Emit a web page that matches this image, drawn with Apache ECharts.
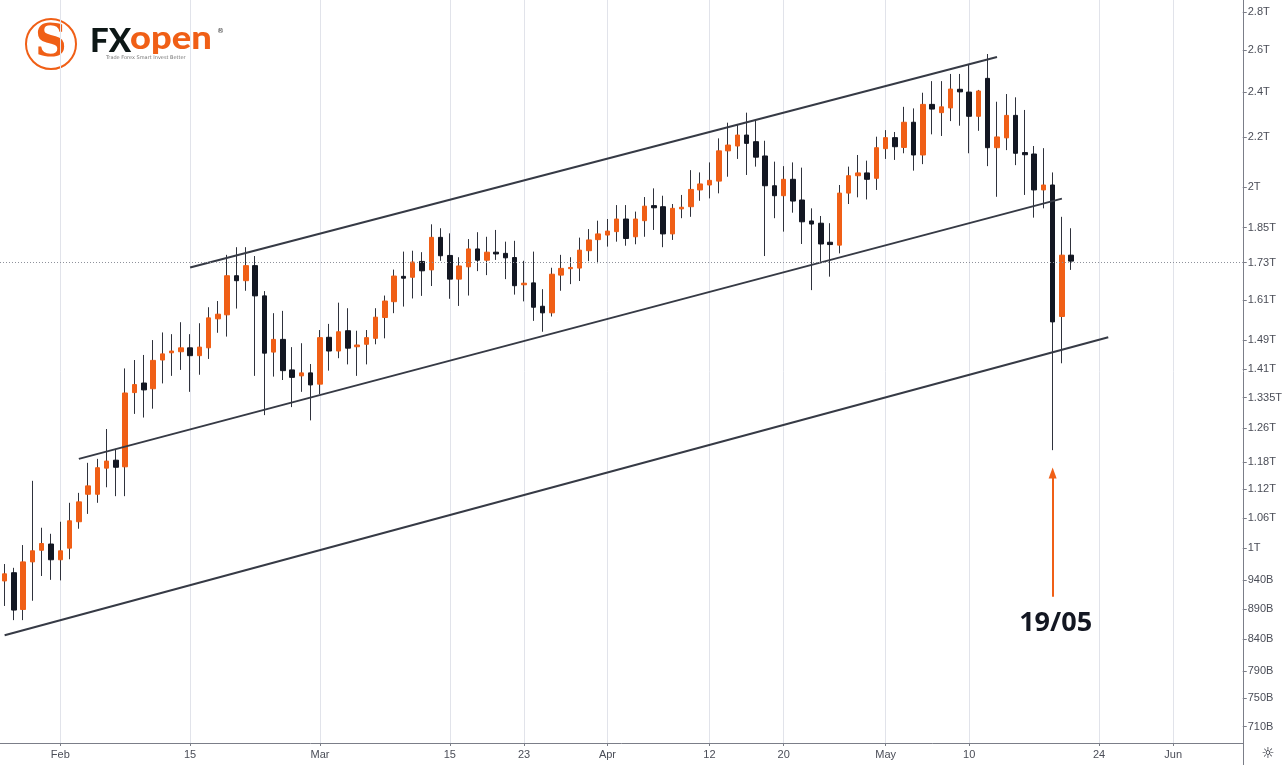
<!DOCTYPE html>
<html>
<head>
<meta charset="utf-8">
<script src="https://cdn.jsdelivr.net/npm/echarts@6.0.0/dist/echarts.min.js"></script>
<style>
  html, body { margin: 0; padding: 0; background: #ffffff; }
  #chart { width: 1285px; height: 765px; }
</style>
</head>
<body>
<div id="chart"></div>
<script>
var chart = echarts.init(document.getElementById('chart'));

// daily candles, values in billions (USD), 26 Jan - 21 May 2021
let startDate = Date.UTC(2021, 0, 26);
let dayCount = 134; // axis runs on to 8 Jun
let opens = [939, 954, 889, 974, 996, 1008, 978, 1000, 1052, 1109,
    1109, 1166, 1184, 1169, 1348, 1373, 1358, 1435, 1455, 1458,
    1469, 1447, 1469, 1553, 1565, 1687, 1671, 1720, 1623, 1457,
    1493, 1408, 1392, 1400, 1370, 1499, 1460, 1518, 1472, 1479,
    1496, 1557, 1605, 1685, 1682, 1734, 1706, 1816, 1754, 1676,
    1716, 1776, 1738, 1765, 1761, 1747, 1658, 1664, 1591, 1571,
    1689, 1710, 1712, 1770, 1808, 1824, 1836, 1881, 1818, 1875,
    1930, 1926, 1828, 1918, 1926, 1989, 2008, 2023, 2144, 2164,
    2210, 2182, 2123, 2005, 1967, 2030, 1951, 1874, 1866, 1799,
    1789, 1977, 2044, 2055, 2034, 2153, 2199, 2158, 2265, 2127,
    2344, 2307, 2328, 2413, 2400, 2291, 2464, 2157, 2198, 2295,
    2137, 2131, 1989, 2008, 1560, 1755];
let closes = [952, 888, 974, 995, 1009, 978, 995, 1054, 1093, 1127,
    1167, 1182, 1168, 1347, 1369, 1355, 1434, 1452, 1460, 1469,
    1447, 1471, 1556, 1567, 1687, 1671, 1720, 1623, 1454, 1493,
    1406, 1388, 1400, 1368, 1498, 1460, 1515, 1468, 1477, 1498,
    1558, 1607, 1686, 1679, 1732, 1703, 1816, 1753, 1676, 1719,
    1776, 1738, 1765, 1759, 1746, 1655, 1663, 1588, 1571, 1692,
    1711, 1714, 1772, 1807, 1828, 1838, 1881, 1812, 1881, 1928,
    1922, 1828, 1920, 1924, 1991, 2012, 2026, 2144, 2168, 2210,
    2175, 2118, 2005, 1967, 2030, 1947, 1871, 1863, 1793, 1791,
    1977, 2044, 2055, 2030, 2157, 2199, 2161, 2265, 2127, 2344,
    2323, 2333, 2414, 2401, 2291, 2405, 2157, 2202, 2295, 2134,
    2128, 1989, 2008, 1544, 1755, 1735];
let lows = [895, 871, 871, 904, 948, 941, 940, 979, 1038, 1068,
    1091, 1124, 1105, 1105, 1294, 1285, 1307, 1372, 1392, 1408,
    1350, 1395, 1438, 1512, 1501, 1584, 1639, 1392, 1291, 1390,
    1381, 1311, 1350, 1278, 1344, 1406, 1440, 1423, 1392, 1423,
    1479, 1496, 1570, 1590, 1615, 1623, 1654, 1736, 1614, 1592,
    1624, 1702, 1689, 1739, 1676, 1627, 1606, 1547, 1515, 1560,
    1639, 1660, 1670, 1735, 1728, 1784, 1801, 1787, 1792, 1818,
    1842, 1782, 1807, 1884, 1889, 1948, 1957, 1976, 2040, 2111,
    2047, 2080, 1752, 1884, 1836, 1904, 1793, 1641, 1733, 1684,
    1761, 1936, 1961, 1953, 1989, 2111, 2107, 2134, 2064, 2090,
    2213, 2206, 2270, 2250, 2134, 2228, 2082, 1963, 2147, 2086,
    1970, 1886, 1920, 1207, 1426, 1706];
let highs = [970, 963, 1006, 1138, 1040, 1028, 1052, 1091, 1112, 1178,
    1187, 1257, 1210, 1412, 1435, 1449, 1491, 1513, 1508, 1543,
    1508, 1540, 1588, 1607, 1756, 1782, 1782, 1752, 1638, 1570,
    1577, 1471, 1482, 1424, 1520, 1538, 1602, 1585, 1518, 1520,
    1585, 1624, 1707, 1767, 1770, 1765, 1862, 1848, 1830, 1748,
    1810, 1834, 1818, 1842, 1801, 1804, 1736, 1767, 1644, 1713,
    1756, 1748, 1815, 1845, 1875, 1881, 1932, 1932, 1908, 1962,
    1995, 1967, 1936, 1970, 2066, 2057, 2097, 2196, 2263, 2253,
    2307, 2275, 2186, 2100, 2082, 2097, 2076, 1920, 1892, 1866,
    2008, 2080, 2127, 2104, 2203, 2231, 2223, 2333, 2326, 2397,
    2451, 2451, 2485, 2485, 2533, 2410, 2582, 2356, 2391, 2376,
    2319, 2164, 2155, 2057, 1889, 1848];

// price scale labels (right side)
let yTickValues = [710, 750, 790, 840, 890, 940, 1000, 1060, 1120, 1180, 1260,
    1335, 1410, 1490, 1610, 1730, 1850, 2000, 2200, 2400, 2600, 2800];
let yTickLabels = ['710B', '750B', '790B', '840B', '890B', '940B', '1T', '1.06T',
    '1.12T', '1.18T', '1.26T', '1.335T', '1.41T', '1.49T', '1.61T', '1.73T',
    '1.85T', '2T', '2.2T', '2.4T', '2.6T', '2.8T'];
let lastPrice = 1730;

// time scale labels
let tickDates = ['2021-02-01', '2021-02-15', '2021-03-01', '2021-03-15', '2021-03-23',
    '2021-04-01', '2021-04-12', '2021-04-20', '2021-05-01', '2021-05-10',
    '2021-05-24', '2021-06-01'];
let tickLabels = ['Feb', '15', 'Mar', '15', '23', 'Apr', '12', '20', 'May', '10', '24', 'Jun'];

// channel lines drawn on the chart: [date, value] end points
let upperLine = [['2021-02-15', 1714], ['2021-05-13', 2567]];
let middleLine = [['2021-02-03', 1187], ['2021-05-20', 1956]];
let lowerLine = [['2021-01-26', 846], ['2021-05-25', 1499]];
let arrowDate = '2021-05-19';
let arrowFrom = 911;
let arrowTo = 1155;
let noteValue = 866;

let orange = '#f05f16';
let dark = '#131722';
let wickColor = '#2f323c';

let dates = [];
for (let i = 0; i < dayCount; i++) {
    dates.push(new Date(startDate + i * 86400000).toISOString().slice(0, 10));
}
let isTick = function(idx, val) {
    return tickDates.indexOf(val) >= 0;
};

let wickData = opens.map((o, i) => [o, closes[i], lows[i], highs[i]]);
let bodyData = opens.map((o, i) => [o, closes[i], Math.min(o, closes[i]), Math.max(o, closes[i])]);

let axisColor = '#7b7e88';
let labelColor = '#4a4d57';
let font = 'Liberation Sans';

option = {
    backgroundColor: '#ffffff',
    animation: false,
    grid: {
        left: 0,
        right: 42,
        top: 0,
        bottom: 22
    },
    xAxis: {
        type: 'category',
        data: dates,
        boundaryGap: true,
        axisLine: {
            lineStyle: { color: axisColor, width: 1 }
        },
        axisTick: {
            show: true,
            alignWithLabel: true,
            interval: isTick,
            length: 3,
            lineStyle: { color: axisColor }
        },
        axisLabel: {
            interval: isTick,
            formatter: val => tickLabels[tickDates.indexOf(val)],
            color: labelColor,
            fontFamily: font,
            fontSize: 11,
            margin: 6
        },
        splitLine: {
            show: true,
            alignWithLabel: true,
            interval: isTick,
            lineStyle: { color: '#e1e3ea', width: 1 }
        }
    },
    yAxis: {
        type: 'log',
        logBase: 10,
        position: 'right',
        min: 688,
        max: 2864,
        axisLine: {
            show: true,
            lineStyle: { color: axisColor, width: 1 }
        },
        axisTick: {
            show: true,
            length: 4,
            customValues: yTickValues,
            lineStyle: { color: axisColor }
        },
        axisLabel: {
            customValues: yTickValues,
            formatter: val => {
                for (let i = 0; i < yTickValues.length; i++) {
                    if (Math.abs(yTickValues[i] - val) < 1) return yTickLabels[i];
                }
                return '';
            },
            color: labelColor,
            fontFamily: font,
            fontSize: 11,
            margin: 5
        },
        splitLine: { show: false }
    },
    graphic: [
        // FXopen logo
        {
            type: 'circle',
            shape: { cx: 51, cy: 44, r: 25 },
            style: { fill: 'none', stroke: orange, lineWidth: 2 }
        },
        {
            type: 'text',
            x: 51, y: 45,
            style: {
                text: 'S', fill: orange, font: 'bold 44px "DejaVu Serif"',
                align: 'center', verticalAlign: 'middle'
            }
        },
        {
            type: 'text',
            x: 90, y: 41,
            style: {
                text: 'FX', fill: '#0d1716', font: '900 33px Lato',
                verticalAlign: 'middle'
            }
        },
        {
            type: 'text',
            x: 130, y: 38,
            scaleX: 1.1,
            style: {
                text: 'open', fill: orange, font: '900 33px Lato',
                verticalAlign: 'middle'
            }
        },
        {
            type: 'text',
            x: 217, y: 31,
            style: { text: '®', fill: '#333', font: '7px "DejaVu Sans"', verticalAlign: 'middle' }
        },
        {
            type: 'text',
            x: 106, y: 58,
            style: { text: 'Trade Forex Smart Invest Better', fill: '#777', font: '5px "DejaVu Sans"', verticalAlign: 'middle' }
        },
        // price scale frame below the time axis
        {
            type: 'line',
            shape: { x1: 1243.5, y1: 743, x2: 1243.5, y2: 765 },
            style: { stroke: axisColor, lineWidth: 1 }
        },
        {
            type: 'text',
            x: 1268, y: 754,
            style: {
                text: '☼', fill: dark, font: '15px "DejaVu Sans"',
                align: 'center', verticalAlign: 'middle'
            }
        }
    ],
    series: [{
        name: 'wick',
        type: 'candlestick',
        data: wickData,
        barWidth: 1,
        z: 2,
        itemStyle: {
            color: wickColor,
            color0: wickColor,
            borderColor: wickColor,
            borderColor0: wickColor,
            borderWidth: 1
        },
        markLine: {
            silent: true,
            symbol: ['none', 'triangle'],
            symbolSize: [8, 11],
            label: { show: false },
            lineStyle: { color: orange, width: 2, type: 'solid' },
            data: [
                [{ coord: [arrowDate, arrowFrom] }, { coord: [arrowDate, arrowTo] }]
            ]
        },
        markPoint: {
            silent: true,
            symbol: 'circle',
            symbolSize: 0,
            label: {
                show: true,
                position: 'inside',
                offset: [3, 0],
                formatter: '19/05',
                color: dark,
                fontFamily: 'Open Sans',
                fontWeight: 'bold',
                fontSize: 27
            },
            data: [{ coord: [arrowDate, noteValue] }]
        }
    }, {
        name: 'body',
        type: 'candlestick',
        data: bodyData,
        barWidth: 5,
        z: 3,
        itemStyle: {
            color: orange,
            color0: dark,
            borderColor: orange,
            borderColor0: dark,
            borderWidth: 1
        },
        markLine: {
            silent: true,
            symbol: 'none',
            label: { show: false },
            lineStyle: { color: '#8e919b', width: 1, type: [1, 2] },
            data: [{ yAxis: lastPrice }]
        }
    }, {
        name: 'upper',
        type: 'line',
        data: upperLine,
        symbol: 'none',
        z: 4,
        lineStyle: { color: '#363a45', width: 2 }
    }, {
        name: 'middle',
        type: 'line',
        data: middleLine,
        symbol: 'none',
        z: 4,
        lineStyle: { color: '#363a45', width: 2 }
    }, {
        name: 'lower',
        type: 'line',
        data: lowerLine,
        symbol: 'none',
        z: 4,
        lineStyle: { color: '#363a45', width: 2 }
    }]
};
chart.setOption(option);
</script>
</body>
</html>
